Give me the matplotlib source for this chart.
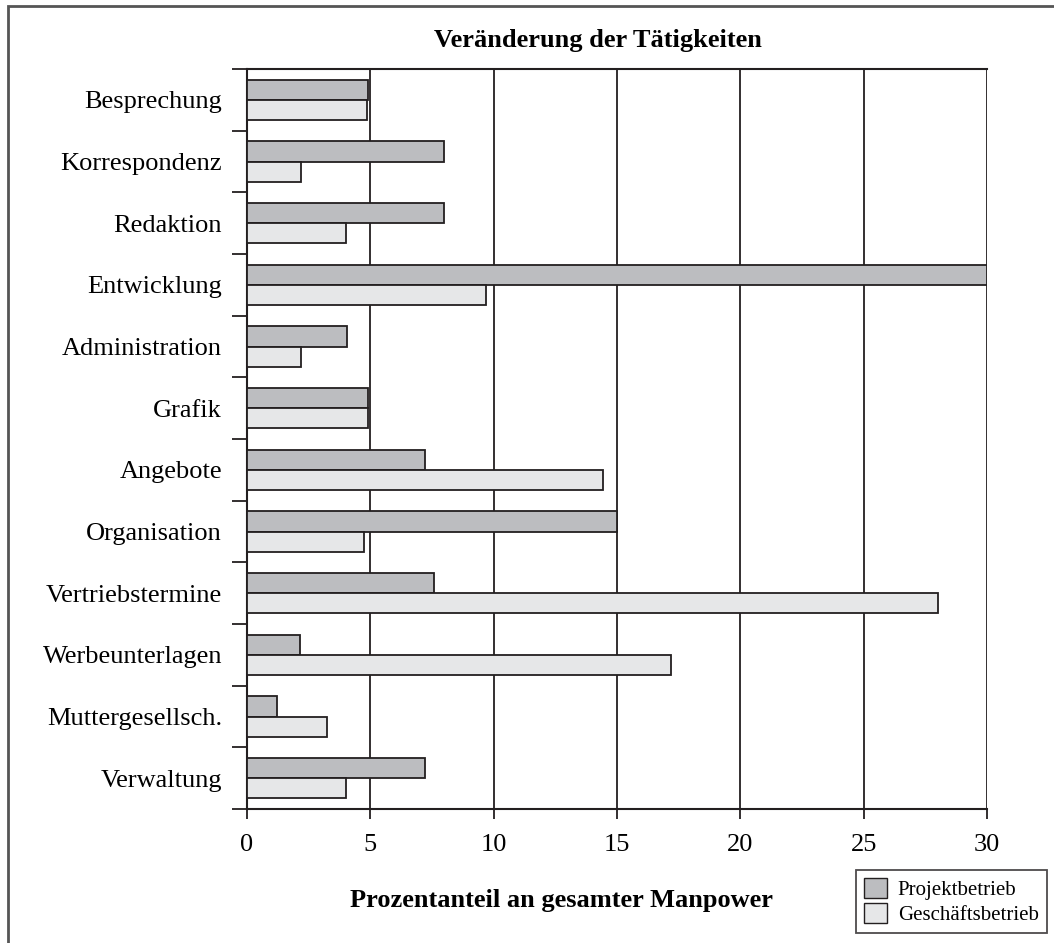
import numpy as np
import matplotlib.pyplot as plt
from matplotlib.patches import Rectangle, Patch

plt.rcParams['font.family'] = ['Liberation Serif', 'DejaVu Serif']

# Daten
kategorien = ["Besprechung", "Korrespondenz", "Redaktion", "Entwicklung",
              "Administration", "Grafik", "Angebote", "Organisation",
              "Vertriebstermine", "Werbeunterlagen", "Muttergesellsch.",
              "Verwaltung"]
projektbetrieb = [4.9, 8.0, 8.0, 30.0, 4.05, 4.9, 7.2, 15.0, 7.6, 2.15, 1.2, 7.2]
geschaeftsbetrieb = [4.85, 2.2, 4.0, 9.7, 2.2, 4.9, 14.45, 4.75, 28.0, 17.2, 3.25, 4.0]
x_ticks = [0, 5, 10, 15, 20, 25, 30]

farbe_dunkel = "#bcbdc0"
farbe_hell = "#e6e7e8"
kante = "#231f20"

fig = plt.figure(figsize=(10.54, 9.43), dpi=100)
ax = fig.add_axes([247 / 1054, 1 - 809 / 943, 740 / 1054, 740 / 943])

y = np.arange(len(kategorien))
h = 0.325
ax.barh(y - h / 2, projektbetrieb, height=h, color=farbe_dunkel,
        edgecolor=kante, linewidth=1.3, zorder=3, label="Projektbetrieb")
ax.barh(y + h / 2, geschaeftsbetrieb, height=h, color=farbe_hell,
        edgecolor=kante, linewidth=1.3, zorder=3, label="Geschäftsbetrieb")

ax.set_xlim(0, 30)
ax.set_ylim(len(kategorien) - 0.5, -0.5)

# Gitterlinien
for xt in x_ticks[1:]:
    ax.axvline(xt, color=kante, linewidth=1.3, zorder=1)

ax.set_xticks(x_ticks)
ax.set_xticklabels([str(t) for t in x_ticks], fontsize=19)
ax.tick_params(axis='x', length=7, width=1.3, direction='out', pad=11, color=kante)

# Kategorie-Grenzen als Ticks, Beschriftungen in der Mitte
ax.set_yticks(np.arange(len(kategorien) + 1) - 0.5)
ax.set_yticklabels([])
ax.tick_params(axis='y', which='major', length=11, width=1.3, color=kante)
ax.set_yticks(y, minor=True)
ax.set_yticklabels(kategorien, minor=True, fontsize=19)
ax.tick_params(axis='y', which='minor', length=0, pad=18)

for s in ['left', 'bottom', 'top']:
    ax.spines[s].set_linewidth(1.5)
    ax.spines[s].set_color(kante)
ax.spines['right'].set_visible(False)

fig.text(598 / 1054, 1 - 41 / 943, "Veränderung der Tätigkeiten", fontsize=19,
         fontweight='bold', ha='center', va='center')
fig.text(562 / 1054, 1 - 901 / 943, "Prozentanteil an gesamter Manpower",
         fontsize=19, fontweight='bold', ha='center', va='center')

# Rahmen
fig.patches.append(Rectangle((8 / 1054, -0.05), 1.1, 1.05 - 6 / 943,
                             transform=fig.transFigure, fill=False,
                             edgecolor="#555555", linewidth=2))

griffe = [Patch(facecolor=farbe_dunkel, edgecolor=kante, label="Projektbetrieb"),
          Patch(facecolor=farbe_hell, edgecolor=kante, label="Geschäftsbetrieb")]
leg = fig.legend(handles=griffe, loc='lower right',
                 bbox_to_anchor=(1047 / 1054, 1 - 933 / 943), fontsize=15,
                 frameon=True, fancybox=False, borderpad=0.4, handlelength=1.1,
                 handleheight=1.1, handletextpad=0.5, labelspacing=0.1,
                 borderaxespad=0)
leg.get_frame().set_edgecolor(kante)
leg.get_frame().set_linewidth(1.3)

fig.savefig("out.png", dpi=100)
